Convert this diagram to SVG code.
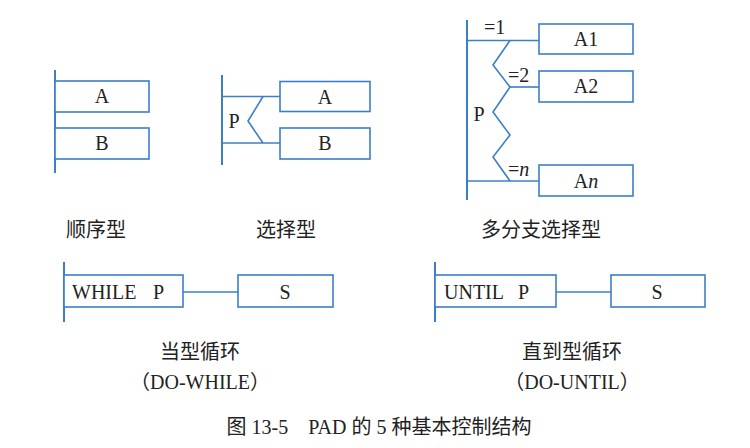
<svg xmlns="http://www.w3.org/2000/svg" width="750" height="448" viewBox="0 0 750 448" font-family="'Liberation Serif','Noto Sans CJK SC',serif">
<style>
.ln{stroke:#3b7fc6;stroke-width:1.6;fill:none}
.bar{stroke:#3b7fc6;stroke-width:2;fill:none}
.bx{stroke:#3b7fc6;stroke-width:1.6;fill:#fff}
.t{fill:#222;font-size:20px}
.c{text-anchor:middle}
</style>
<rect width="750" height="448" fill="#fff"/>
<g id="connectors">
<line class="bar" x1="55" y1="70" x2="55" y2="173"/>
<line class="bar" x1="222" y1="75" x2="222" y2="165"/>
<line class="ln" x1="222" y1="96.5" x2="280" y2="96.5"/>
<line class="ln" x1="222" y1="143" x2="280" y2="143"/>
<polyline class="ln" points="263,96.5 248,121 263,143"/>
<line class="bar" x1="467" y1="20" x2="467" y2="200"/>
<line class="ln" x1="467" y1="40.5" x2="539" y2="40.5"/>
<line class="ln" x1="510" y1="87" x2="539" y2="87"/>
<line class="ln" x1="467" y1="181" x2="539" y2="181"/>
<polyline class="ln" points="510,40.5 493,65 510,87 493,112 510,135 493,157 510,181"/>
<line class="bar" x1="64" y1="262" x2="64" y2="322"/>
<line class="ln" x1="183" y1="292" x2="238" y2="292"/>
<line class="bar" x1="435" y1="262" x2="435" y2="322"/>
<line class="ln" x1="556" y1="292" x2="611" y2="292"/>
</g>
<g id="seqA"><rect class="bx" x="55" y="81" width="94" height="31"/><text class="t c" x="102" y="103">A</text></g>
<g id="seqB"><rect class="bx" x="55" y="128" width="94" height="31"/><text class="t c" x="102" y="150">B</text></g>
<g id="selP"><text class="t c" x="234" y="128">P</text></g>
<g id="selA"><rect class="bx" x="280" y="81.5" width="90" height="30"/><text class="t c" x="325" y="104">A</text></g>
<g id="selB"><rect class="bx" x="280" y="128" width="90" height="31"/><text class="t c" x="325" y="150">B</text></g>
<g id="mP"><text class="t c" x="479" y="121">P</text></g>
<g id="mA1"><rect class="bx" x="539" y="24" width="94" height="30"/><text class="t c" x="586" y="46">A1</text><text class="t" x="484" y="34">=1</text></g>
<g id="mA2"><rect class="bx" x="539" y="71" width="94" height="31"/><text class="t c" x="586" y="93">A2</text><text class="t" x="508" y="82">=2</text></g>
<g id="mAn"><rect class="bx" x="539" y="165" width="94" height="31"/><text class="t c" x="586" y="188">A<tspan font-style="italic">n</tspan></text><text class="t" x="508" y="176">=<tspan font-style="italic">n</tspan></text></g>
<g id="captions1">
<text class="t c" x="96" y="237">顺序型</text>
<text class="t c" x="286" y="237">选择型</text>
<text class="t c" x="541" y="237">多分支选择型</text>
</g>
<g id="whileP"><rect class="bx" x="64" y="275" width="119" height="32"/><text class="t" x="72" y="299">WHILE<tspan x="153">P</tspan></text></g>
<g id="whileS"><rect class="bx" x="238" y="275" width="95" height="32"/><text class="t c" x="285" y="299">S</text></g>
<g id="untilP"><rect class="bx" x="435" y="275" width="121" height="32"/><text class="t" x="444" y="299">UNTIL<tspan x="518">P</tspan></text></g>
<g id="untilS"><rect class="bx" x="611" y="275" width="94" height="32"/><text class="t c" x="657" y="299">S</text></g>
<g id="captions2">
<text class="t c" x="200" y="359">当型循环</text>
<text class="t c" x="200" y="389">（DO-WHILE）</text>
<text class="t c" x="572" y="359">直到型循环</text>
<text class="t c" x="572" y="389">（DO-UNTIL）</text>
<text class="t c" x="379" y="434">图 13-5　PAD 的 5 种基本控制结构</text>
</g>
</svg>
